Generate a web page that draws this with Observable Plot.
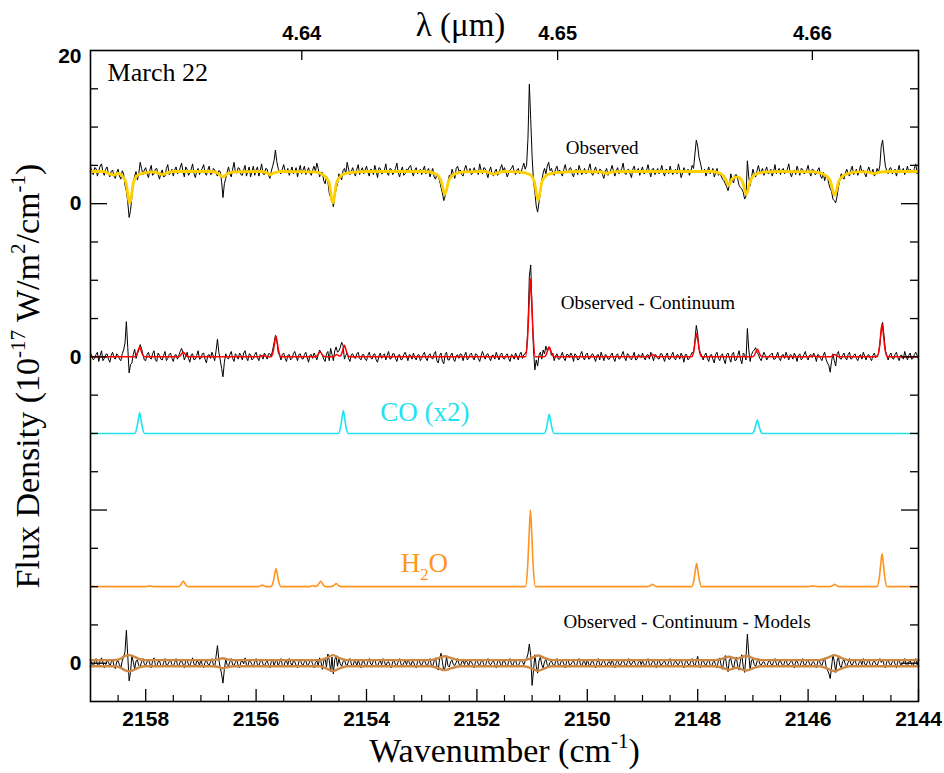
<!DOCTYPE html>
<html><head><meta charset="utf-8">
<script src="https://cdn.jsdelivr.net/npm/d3@7"></script>
<script src="https://cdn.jsdelivr.net/npm/@observablehq/plot@0.6"></script>
<style>body{margin:0;background:#fff}#chart svg{display:block}</style>
</head><body><div id="chart"></div>
<script>
// ---------- DATA (flux in 1e-17 W/m2/cm-1, wavenumber in cm-1) ----------
const wnStart = 2159, wnStep = 0.025;   // spectral sampling of the observed spectrum
const observed = [
4.9,4.0,3.8,4.7,4.6,3.6,4.3,4.9,5.2,4.1,3.7,4.5,4.8,3.9,3.5,4.2,4.4,3.6,3.3,4.1,
4.5,3.6,3.2,4.3,3.9,2.4,1.6,0.2,-1.8,-0.9,0.9,2.7,3.6,4.2,3.1,3.9,5.4,4.6,3.8,4.4,
4.7,3.9,3.4,4.4,5.0,3.7,3.9,4.5,4.6,3.8,3.2,4.0,4.4,3.5,3.6,4.6,5.1,3.8,4.0,4.5,
3.6,4.4,4.8,3.9,4.1,4.7,5.3,4.2,3.5,4.8,4.5,3.7,4.0,4.5,5.2,3.9,3.4,4.3,4.6,3.8,
4.3,4.6,5.1,4.0,3.7,4.4,4.9,3.8,3.9,4.6,4.4,3.9,3.6,4.3,4.2,2.9,0.8,2.6,3.3,4.1,
4.8,3.9,3.5,4.5,5.4,4.1,4.0,4.7,4.6,3.8,3.7,4.4,5.0,3.6,4.2,4.8,3.5,4.2,4.9,3.7,
4.4,4.8,3.6,4.3,5.2,3.9,3.8,4.6,4.5,3.7,3.3,4.2,4.9,5.6,7.0,5.5,4.6,4.1,3.9,4.5,
5.1,4.3,4.0,4.6,3.7,4.2,4.8,3.9,4.2,4.7,3.5,4.3,5.0,3.9,4.4,4.9,3.8,4.2,4.7,4.0,
3.7,4.4,4.9,4.2,5.3,4.6,3.5,4.0,4.1,3.0,2.6,3.6,2.9,1.4,0.8,0.3,-0.4,0.9,1.9,2.6,
3.9,3.5,3.1,4.3,4.6,3.9,5.4,4.5,3.8,4.2,4.7,4.0,3.6,4.5,5.1,3.8,4.3,4.7,3.9,4.4,
4.9,4.1,3.6,4.5,4.4,3.8,5.0,4.3,3.4,4.7,4.6,3.9,4.0,4.4,5.2,4.0,3.7,4.6,4.5,3.8,
4.1,4.6,5.3,4.0,3.5,4.3,4.8,3.7,3.9,4.5,4.4,4.8,5.0,4.1,3.6,4.4,4.7,3.9,4.2,4.5,
3.8,4.4,4.9,3.9,4.3,4.6,3.5,4.1,4.6,3.5,3.2,3.9,3.5,3.0,2.1,1.4,0.4,1.0,2.0,2.8,
3.7,3.4,4.5,3.9,3.3,4.6,4.9,4.2,4.4,3.8,3.6,4.5,5.0,4.3,4.1,4.6,3.8,4.0,4.7,4.2,
4.3,3.8,5.2,4.4,3.9,4.7,4.6,4.0,3.4,4.3,4.8,3.9,3.6,4.2,4.5,3.7,4.0,4.6,5.1,4.3,
4.7,4.1,3.5,4.0,4.4,4.6,5.0,4.2,3.8,4.4,4.6,3.9,4.1,4.7,5.3,4.5,5.0,8.5,15.6,11.0,
6.2,3.0,1.5,-0.3,-1.1,0.2,1.4,3.0,4.0,4.6,3.9,4.9,5.4,4.3,4.6,4.0,3.7,4.5,4.9,4.1,
4.4,3.9,3.6,4.5,5.1,4.2,4.0,4.6,4.7,3.9,3.5,4.3,4.5,3.8,5.0,4.4,3.8,4.1,4.6,3.9,
4.1,4.6,5.2,4.0,3.7,4.3,4.8,4.1,3.9,4.5,4.4,3.8,3.3,4.2,4.6,3.7,4.0,4.4,5.0,4.2,
3.6,4.3,4.7,3.9,4.2,4.6,5.3,4.0,3.8,4.4,4.5,3.9,3.4,4.5,4.9,4.0,4.3,4.6,3.7,4.3,
4.8,3.9,4.0,4.4,5.1,4.2,3.5,4.5,4.6,3.8,4.2,4.6,3.9,4.3,5.0,4.1,3.6,4.5,4.4,3.9,
4.9,4.2,3.8,4.3,4.5,3.9,5.2,4.4,3.4,4.0,4.7,4.3,4.1,4.5,3.7,4.2,5.0,4.6,6.5,8.3,
7.5,6.0,5.3,4.4,4.0,4.5,3.6,4.2,4.8,3.9,4.2,4.6,3.5,4.0,4.6,3.7,3.9,3.6,3.2,3.0,
2.6,2.2,1.7,2.5,3.9,3.1,2.7,3.7,3.8,3.2,2.4,2.1,1.9,1.5,0.6,1.0,5.6,3.5,2.3,3.4,
4.5,3.9,3.5,4.3,5.0,4.1,4.2,4.6,3.7,4.3,4.8,3.9,4.0,4.5,3.6,4.2,5.1,3.9,4.3,4.6,
3.8,4.4,4.6,3.9,4.1,4.5,5.2,4.0,3.5,4.2,4.4,3.8,4.9,4.3,3.7,4.6,4.5,3.9,4.0,4.4,
5.0,4.1,3.6,4.5,4.4,3.8,3.9,4.4,4.7,3.6,3.3,4.1,3.0,3.7,3.6,2.6,2.0,1.6,0.6,0.4,
0.1,1.0,2.2,3.1,3.9,3.4,3.2,4.0,4.5,3.9,3.6,4.4,4.9,3.8,4.1,4.5,3.7,4.2,5.0,4.0,
4.4,3.9,3.5,4.3,4.8,4.2,4.0,4.5,3.6,3.9,4.6,4.1,5.0,7.5,8.3,6.5,4.9,4.3,3.9,4.6,
4.7,3.9,4.1,4.5,3.6,4.3,5.0,4.0,4.3,4.6,3.8,4.2,4.9,4.0,4.5,4.3,4.0,4.6,5.2,3.9,4.4];
const observedMinusContinuum = [
0.5,0.1,-0.4,-0.2,0.3,0.6,-0.6,0.2,0.8,-0.5,-0.2,0.3,0.4,-0.3,-0.7,0.2,0.6,-0.1,-0.3,0.4,
0.2,-0.3,-0.5,0.4,0.9,1.8,4.6,1.2,-2.1,-1.0,-0.8,0.3,1.0,-0.2,0.4,0.9,1.6,1.1,0.3,-0.4,
-0.5,0.3,0.6,-0.1,-0.3,0.4,0.8,-0.4,-0.6,0.5,0.2,-0.3,-0.4,0.2,0.7,-0.5,-0.2,0.3,0.5,-0.2,
-0.6,0.2,0.3,-0.3,0.2,0.7,1.1,0.5,-0.4,0.1,0.6,-0.2,-0.7,0.3,0.4,-0.4,-0.3,0.2,0.8,-0.3,
-0.2,0.4,0.5,-0.3,-0.8,0.2,0.3,-0.2,0.6,0.1,-0.5,0.8,2.3,0.6,-0.4,-1.5,-2.6,-0.7,0.4,-0.1,
-0.3,0.3,0.7,-0.2,-0.6,0.4,0.2,-0.3,0.5,0.2,-0.4,0.5,0.8,-0.1,-0.5,0.4,0.3,-0.4,-0.2,0.3,
0.6,-0.1,-0.5,0.3,0.1,-0.3,0.5,0.2,-0.3,0.4,0.4,0.1,0.9,1.8,2.8,2.2,0.6,0.2,-0.4,0.3,
0.5,-0.2,-0.6,0.2,0.3,-0.4,-0.2,0.4,0.7,0.1,-0.5,0.3,0.4,-0.2,-0.3,0.3,0.6,-0.1,-0.7,0.2,
0.3,-0.2,0.5,0.1,-0.4,0.3,0.9,0.6,0.2,-0.3,-0.6,0.4,0.7,-0.5,1.1,0.3,-0.5,0.8,1.3,0.6,
0.8,1.2,1.9,1.5,-0.3,0.2,0.5,-0.2,-0.6,0.3,0.4,-0.1,-0.2,0.4,0.6,-0.2,-0.4,0.3,0.3,-0.3,
-0.5,0.2,0.6,-0.1,-0.3,0.3,0.4,-0.4,-0.7,0.1,0.5,-0.2,0.2,0.4,-0.4,0.2,0.7,-0.3,-0.2,0.4,
0.4,-0.2,-0.6,0.2,0.3,-0.4,-0.3,0.3,0.6,0.1,-0.5,0.3,0.2,-0.3,0.5,-0.1,-0.4,0.2,0.3,-0.5,
-0.2,0.3,0.6,-0.2,-0.5,0.2,0.4,-0.1,-0.3,0.4,0.7,-0.5,-0.8,0.2,0.5,-0.6,-0.9,0.3,0.6,-0.4,
-0.4,0.2,0.5,-0.3,-0.6,0.1,0.3,-0.2,0.4,0.3,-0.5,0.2,0.6,-0.4,-0.2,0.3,0.5,-0.1,-0.4,0.4,
0.3,-0.2,-0.6,0.1,0.7,0.2,-0.3,0.3,0.4,-0.1,-0.5,0.2,0.2,-0.3,0.6,0.1,-0.4,0.3,0.5,-0.2,
-0.3,0.2,0.4,-0.2,-0.6,0.3,0.2,-0.3,0.5,0.1,-0.4,0.3,0.6,-0.2,0.3,0.4,0.8,4.0,10.5,12.0,
6.0,1.0,-1.7,-0.4,-1.2,0.2,0.6,-0.3,0.9,0.4,1.4,0.8,1.3,1.0,0.2,0.5,-0.5,0.1,0.4,-0.3,
-0.3,0.2,0.6,-0.2,-0.5,0.3,0.3,-0.1,0.5,0.2,-0.6,0.4,0.2,-0.4,-0.3,0.3,0.7,-0.1,-0.4,0.3,
0.5,-0.3,-0.2,0.3,0.4,-0.1,-0.6,0.2,0.3,-0.4,0.6,0.1,-0.5,0.3,0.2,-0.3,-0.3,0.2,0.5,-0.2,
-0.6,0.2,0.4,-0.3,-0.2,0.3,0.7,-0.1,-0.5,0.4,0.3,-0.2,-0.4,0.1,0.6,-0.4,-0.3,0.3,0.2,-0.1,
0.5,-0.1,-0.4,0.2,0.3,-0.3,0.6,0.1,-0.5,0.3,0.2,-0.2,-0.3,0.4,0.4,-0.1,-0.6,0.2,0.5,-0.3,
-0.3,0.2,0.6,-0.2,-0.4,0.3,0.2,-0.3,0.5,0.1,-0.7,0.3,0.3,-0.4,-0.2,0.2,0.6,0.4,2.2,4.1,
3.0,1.0,0.5,0.1,-0.4,0.2,0.5,-0.2,-0.6,0.2,0.3,-0.3,-0.8,0.3,0.6,-0.2,-0.5,0.2,0.4,-0.4,
-0.9,0.3,0.5,-0.2,-0.7,0.4,0.6,-0.5,-0.4,0.2,0.8,-0.3,-0.9,0.5,0.3,-0.4,3.7,1.0,-0.6,0.3,
0.7,0.9,1.2,0.6,0.3,-0.2,-0.5,0.1,0.6,0.2,-0.4,-0.1,0.2,0.3,0.5,-0.3,-0.3,0.1,0.6,-0.2,
-0.5,0.2,0.3,-0.2,0.6,0.1,-0.4,0.3,0.2,-0.3,0.5,0.1,-0.6,0.2,0.4,-0.4,-0.2,0.3,0.7,-0.1,
-0.4,0.2,0.3,-0.1,0.5,0.1,-0.6,0.3,0.2,-0.2,-0.5,0.2,0.6,-0.3,-0.8,-1.1,-2.0,-0.6,0.4,-0.5,
-1.2,0.4,0.7,-0.2,-0.3,0.2,0.5,-0.1,-0.4,0.3,0.6,-0.3,-0.2,0.2,0.4,-0.2,-0.5,0.1,0.3,-0.3,
0.6,0.1,-0.4,0.2,0.3,-0.2,-0.5,0.2,0.5,-0.1,0.2,0.4,1.6,3.6,4.5,2.8,0.8,0.3,-0.4,0.2,
0.5,-0.2,-0.3,0.3,0.6,-0.1,-0.5,0.2,0.2,-0.3,0.7,0.1,-0.4,0.2,0.5,-0.3,-0.2,0.3,0.6,0.2,-0.3];
const residual = [
0.4,-0.1,-0.5,0.2,0.6,-0.2,-0.3,0.3,0.7,0.1,-0.6,-0.2,0.3,0.2,-0.4,0.1,0.5,-0.3,-0.7,0.2,
0.3,-0.2,-0.6,0.3,0.8,1.5,4.3,1.0,-2.3,-1.2,1.0,0.2,-0.8,0.3,0.4,-0.3,-0.5,0.2,0.6,-0.1,
-0.3,0.2,0.5,-0.1,-0.6,0.3,0.7,-0.2,-0.4,0.2,0.3,-0.3,-0.5,0.1,0.6,-0.3,-0.2,0.2,0.4,-0.2,
-0.5,0.1,0.6,-0.2,-0.4,0.2,0.3,-0.1,-0.6,0.3,0.5,-0.2,-0.3,0.2,0.7,-0.1,-0.4,0.3,0.2,-0.3,
0.5,-0.2,-0.6,0.1,0.4,-0.1,-0.3,0.2,0.6,-0.2,-0.5,0.9,2.3,0.5,-0.6,-1.4,-2.6,-0.8,0.5,-0.2,
-0.4,0.2,0.6,-0.2,-0.3,0.1,0.5,-0.3,-0.6,0.2,0.3,-0.1,0.7,-0.2,-0.4,0.3,0.2,-0.2,-0.5,0.2,
0.6,-0.2,-0.3,0.2,0.4,-0.1,-0.5,0.1,0.3,-0.2,-0.6,0.2,0.5,-0.3,0.2,0.4,-0.4,0.1,0.6,-0.2,
-0.5,0.2,0.3,-0.2,0.6,0.1,-0.4,0.3,0.2,-0.3,-0.6,0.2,0.5,-0.1,-0.3,0.2,0.4,-0.3,-0.2,0.3,
0.5,-0.2,-0.6,0.1,0.3,-0.3,0.7,0.2,-0.8,0.3,0.6,-0.5,1.2,0.4,-1.1,0.8,-1.4,0.5,0.9,-0.4,
0.6,-0.1,-0.4,0.2,0.5,-0.2,-0.3,0.3,0.6,-0.1,-0.5,0.2,0.2,-0.3,0.4,-0.1,-0.6,0.2,0.3,-0.2,
-0.4,0.2,0.6,-0.1,-0.2,0.3,0.5,-0.2,-0.5,0.1,0.3,-0.2,0.6,0.2,-0.4,0.1,0.2,-0.3,-0.6,0.2,
0.4,-0.2,-0.3,0.2,0.6,-0.1,-0.5,0.1,0.3,-0.2,0.5,0.1,-0.4,0.2,0.2,-0.3,-0.6,0.2,0.5,-0.1,
-0.3,0.2,0.4,-0.1,-0.5,0.2,0.6,-0.3,-0.4,0.3,0.7,-0.4,-0.9,0.6,1.3,0.2,-1.0,-0.5,0.8,-0.3,
-0.5,0.2,0.4,-0.2,-0.3,0.1,0.6,-0.1,-0.5,0.2,0.3,-0.2,0.5,0.1,-0.4,0.3,0.2,-0.2,-0.6,0.2,
0.5,-0.1,-0.3,0.2,0.4,-0.2,-0.5,0.2,0.6,-0.1,-0.2,0.1,0.3,-0.2,-0.6,0.2,0.5,-0.1,-0.4,0.3,
0.3,-0.2,-0.5,0.2,0.6,-0.1,-0.3,0.2,0.4,-0.2,-0.4,0.1,0.5,0.2,-0.2,0.3,0.6,1.2,2.5,1.0,
-2.9,-1.0,1.1,-0.4,-1.3,0.3,0.8,-0.2,-0.6,0.2,0.5,-0.2,-0.4,0.1,0.3,-0.1,-0.5,0.2,0.6,-0.2,
-0.3,0.2,0.4,-0.1,-0.6,0.2,0.5,-0.2,-0.2,0.1,0.3,-0.2,-0.5,0.2,0.6,-0.1,-0.4,0.2,0.2,-0.3,
0.5,-0.1,-0.4,0.2,0.3,-0.2,-0.6,0.1,0.6,-0.2,-0.3,0.2,0.4,-0.1,-0.5,0.1,0.2,-0.2,0.5,-0.1,
-0.6,0.1,0.4,-0.2,-0.3,0.2,0.5,-0.1,-0.4,0.1,0.6,-0.1,-0.2,0.2,0.3,-0.2,-0.5,0.1,0.4,-0.2,
0.3,-0.1,-0.5,0.2,0.6,-0.2,-0.3,0.1,0.4,-0.1,-0.6,0.2,0.5,-0.2,-0.2,0.1,0.3,-0.2,-0.4,0.2,
0.6,-0.2,-0.5,0.1,0.3,-0.1,-0.2,0.2,0.5,-0.2,-0.6,0.1,0.4,-0.1,-0.3,0.2,0.6,-0.1,-0.4,0.3,
0.9,-0.3,-0.6,0.2,0.4,-0.1,-0.3,0.2,0.5,-0.2,-0.5,0.1,0.3,-0.2,-0.6,0.3,0.7,-0.3,-0.8,0.4,
1.0,-0.4,-1.1,0.5,0.6,-0.3,-0.7,0.3,0.8,-0.4,-0.9,0.4,1.1,-0.5,-1.2,0.9,3.8,1.2,-0.9,0.4,
0.5,-0.2,-0.4,0.2,0.6,-0.1,-0.3,0.1,0.2,-0.2,-0.5,0.1,0.4,-0.1,-0.3,0.2,0.6,-0.1,-0.4,0.2,
0.3,-0.1,-0.5,0.2,0.5,-0.2,-0.2,0.1,0.4,-0.1,-0.6,0.2,0.3,-0.2,-0.4,0.1,0.6,-0.2,-0.3,0.2,
0.5,-0.1,-0.4,0.1,0.2,-0.2,-0.6,0.2,0.4,-0.1,-0.3,0.3,0.7,-0.4,-0.9,-1.3,-2.0,-0.5,1.1,0.2,
-1.2,0.3,0.8,-0.3,-0.6,0.2,0.5,-0.2,-0.4,0.1,0.6,-0.1,-0.3,0.2,0.4,-0.2,-0.5,0.1,0.3,-0.2,
0.6,-0.1,-0.3,0.2,0.4,-0.2,-0.5,0.1,0.3,-0.1,-0.4,0.2,0.6,0.1,0.5,-0.2,-0.6,0.2,0.4,-0.1,
-0.3,0.2,0.5,-0.1,-0.6,0.2,0.4,-0.2,-0.2,0.1,0.6,-0.2,-0.4,0.2,0.3,-0.1,-0.5,0.2,0.6,-0.2,0.4];
// continuum fit [wavenumber, flux]
const continuum = [
[2159.0,4.2],[2158.75,4.2],[2158.65,3.85],[2158.58,3.75],[2158.5,3.95],[2158.44,3.75],[2158.36,2.8],[2158.29,0.1],[2158.22,2.8],[2158.14,3.75],[2158.0,4.05],[2157.85,4.15],[2157.76,3.95],[2157.7,3.8],[2157.64,3.95],[2157.5,4.2],
[2156.8,4.2],[2156.68,3.9],[2156.6,3.5],[2156.52,3.9],[2156.4,4.15],[2155.9,4.2],[2155.8,4.0],[2155.74,3.8],[2155.68,4.0],[2155.55,4.2],
[2154.95,4.15],[2154.8,3.85],[2154.68,2.8],[2154.61,0.1],[2154.54,2.8],[2154.42,3.85],[2154.25,4.1],[2154.0,4.2],
[2152.95,4.2],[2152.75,3.9],[2152.65,3.0],[2152.58,1.2],[2152.51,3.0],[2152.4,3.9],[2152.2,4.15],[2151.85,4.2],[2151.76,4.0],[2151.7,3.85],[2151.64,4.0],[2151.5,4.2],
[2151.25,4.15],[2151.05,3.85],[2150.96,2.9],[2150.89,0.4],[2150.82,2.9],[2150.7,3.85],[2150.5,4.1],[2150.2,4.2],[2149.75,4.15],[2149.65,3.95],[2149.55,4.15],[2149.3,4.2],
[2147.75,4.2],[2147.58,3.9],[2147.5,3.3],[2147.44,2.4],[2147.37,3.3],[2147.28,3.5],[2147.19,2.9],[2147.12,1.2],[2147.05,2.9],[2146.95,3.85],[2146.75,4.15],[2146.5,4.2],
[2145.9,4.15],[2145.72,3.85],[2145.6,3.0],[2145.52,1.1],[2145.44,3.0],[2145.32,3.85],[2145.1,4.15],[2144.95,4.15],[2144.85,4.0],[2144.8,3.95],[2144.72,4.1],[2144.5,4.2],[2144.0,4.2]];
// emission model (CO + H2O) fitted to the continuum-subtracted spectrum
const emissionModel = [
[2159.0,0],[2158.2,0],[2158.16,0.35],[2158.13,0.98],[2158.11,1.3],[2158.09,0.98],[2158.06,0.35],[2158.02,0],
[2157.41,0],[2157.37,0.18],[2157.34,0.49],[2157.32,0.65],[2157.3,0.49],[2157.27,0.18],[2157.23,0],
[2155.96,0],[2155.92,0.05],[2155.89,0.15],[2155.87,0.2],[2155.85,0.15],[2155.82,0.05],[2155.78,0],
[2155.73,0],[2155.69,0.73],[2155.66,2.0],[2155.64,2.7],[2155.62,2.0],[2155.59,0.73],[2155.55,0],
[2154.93,0],[2154.89,0.18],[2154.86,0.49],[2154.84,0.65],[2154.82,0.49],[2154.79,0.18],[2154.75,0],
[2154.63,0],[2154.59,0.08],[2154.56,0.22],[2154.54,0.3],[2154.52,0.23],[2154.49,0.12],[2154.47,0.12],[2154.45,0.4],[2154.42,1.12],[2154.4,1.5],[2154.38,1.12],[2154.35,0.4],[2154.31,0],
[2151.12,0],[2151.08,2.75],[2151.05,7.6],[2151.03,10.2],[2151.01,7.6],[2150.98,2.75],[2150.94,0],
[2150.78,0],[2150.74,0.35],[2150.71,0.98],[2150.69,1.3],[2150.67,0.98],[2150.64,0.35],[2150.6,0],
[2148.91,0],[2148.87,0.08],[2148.84,0.22],[2148.82,0.3],[2148.8,0.22],[2148.77,0.08],[2148.73,0],
[2148.11,0],[2148.07,0.82],[2148.04,2.3],[2148.02,3.05],[2148.0,2.3],[2147.97,0.82],[2147.93,0],
[2147.01,0],[2146.97,0.27],[2146.94,0.75],[2146.92,1.0],[2146.9,0.75],[2146.87,0.27],[2146.83,0],
[2146.0,0],[2145.91,0.1],[2145.82,0],
[2145.61,0],[2145.57,0.08],[2145.54,0.22],[2145.52,0.3],[2145.5,0.22],[2145.47,0.08],[2145.43,0],
[2144.75,0],[2144.71,1.16],[2144.68,3.2],[2144.66,4.3],[2144.64,3.2],[2144.61,1.16],[2144.57,0],[2144.0,0]];
// CO model, shown multiplied by 2
const coModel = [
[2159.0,0],[2158.2,0],[2158.16,0.75],[2158.13,2.0],[2158.11,2.7],[2158.09,2.0],[2158.06,0.75],[2158.02,0],
[2154.51,0],[2154.47,0.8],[2154.44,2.2],[2154.42,2.96],[2154.4,2.2],[2154.37,0.8],[2154.33,0],
[2150.78,0],[2150.74,0.7],[2150.71,1.85],[2150.69,2.5],[2150.67,1.85],[2150.64,0.7],[2150.6,0],
[2147.01,0],[2146.97,0.5],[2146.94,1.3],[2146.92,1.75],[2146.9,1.3],[2146.87,0.5],[2146.83,0],[2144.0,0]];
// H2O model
const h2oModel = [
[2159.0,0],[2158.0,0],[2157.93,0.1],[2157.86,0],
[2157.41,0],[2157.37,0.19],[2157.34,0.53],[2157.32,0.7],[2157.3,0.53],[2157.27,0.19],[2157.23,0],
[2155.96,0],[2155.89,0.2],[2155.82,0],
[2155.73,0],[2155.69,0.63],[2155.66,1.76],[2155.64,2.35],[2155.62,1.76],[2155.59,0.63],[2155.55,0],
[2155.03,0],[2154.97,0.15],[2154.93,0.02],[2154.88,0.19],[2154.85,0.53],[2154.83,0.7],[2154.81,0.53],[2154.78,0.19],[2154.74,0],
[2154.64,0],[2154.6,0.11],[2154.57,0.3],[2154.55,0.4],[2154.53,0.3],[2154.5,0.11],[2154.46,0],
[2151.12,0],[2151.08,2.7],[2151.05,7.5],[2151.03,10.0],[2151.01,7.5],[2150.98,2.7],[2150.94,0],
[2148.91,0],[2148.87,0.08],[2148.84,0.22],[2148.82,0.3],[2148.8,0.22],[2148.77,0.08],[2148.73,0],
[2148.11,0],[2148.07,0.81],[2148.04,2.25],[2148.02,3.0],[2148.0,2.25],[2147.97,0.81],[2147.93,0],
[2146.0,0],[2145.91,0.1],[2145.82,0],
[2145.61,0],[2145.57,0.08],[2145.54,0.22],[2145.52,0.3],[2145.5,0.22],[2145.47,0.08],[2145.43,0],
[2144.75,0],[2144.71,1.16],[2144.68,3.2],[2144.66,4.3],[2144.64,3.2],[2144.61,1.16],[2144.57,0],[2144.0,0]];
// uncertainty envelope of the residuals [wavenumber, upper, lower]
const residualEnvelope = [
[2159.0,0.38,-0.4],[2158.55,0.4,-0.4],[2158.45,0.6,-0.6],[2158.37,0.95,-0.95],[2158.3,1.05,-1.05],[2158.22,0.9,-0.9],[2158.12,0.55,-0.55],[2158.0,0.4,-0.4],
[2156.8,0.4,-0.4],[2156.68,0.5,-0.5],[2156.6,0.65,-0.65],[2156.52,0.5,-0.5],[2156.4,0.4,-0.4],
[2154.85,0.4,-0.4],[2154.72,0.7,-0.7],[2154.61,1.05,-1.05],[2154.5,0.7,-0.7],[2154.35,0.4,-0.4],
[2152.85,0.4,-0.4],[2152.7,0.65,-0.65],[2152.58,0.9,-0.9],[2152.46,0.65,-0.65],[2152.3,0.4,-0.4],
[2151.15,0.4,-0.4],[2151.0,0.7,-0.7],[2150.89,1.0,-1.0],[2150.78,0.7,-0.7],[2150.65,0.4,-0.4],
[2147.7,0.4,-0.4],[2147.55,0.6,-0.6],[2147.44,0.85,-0.85],[2147.3,0.6,-0.6],[2147.12,0.95,-0.95],[2146.98,0.6,-0.6],[2146.85,0.4,-0.4],
[2145.8,0.4,-0.4],[2145.65,0.7,-0.7],[2145.52,1.05,-1.05],[2145.4,0.7,-0.7],[2145.25,0.4,-0.4],[2144.0,0.4,-0.4]];
// axis ticks and labels
const wnTicks = [2158, 2156, 2154, 2152, 2150, 2148, 2146, 2144];
const wnMinorTicks = [2158.5,2157.5,2157,2156.5,2155.5,2155,2154.5,2153.5,2153,2152.5,2151.5,2151,2150.5,2149.5,2149,2148.5,2147.5,2147,2146.5,2145.5,2145,2144.5];
const lambdaTicks = [4.64, 4.65, 4.66];
const yMajorTicks = [0, 20, 40, 60];
const yMinorTicks = [5,10,15,25,30,35,45,50,55,65,70,75];
const yTopLabel = {value: 80, text: "20"};
const yZeroValues = [60, 40, 0];
// annotations [wavenumber, stacked flux, text]
const annotations = [
  {wn: 2150.39, y: 67.3, text: "Observed"},
  {wn: 2150.48, y: 47.1, text: "Observed - Continuum"},
  {wn: 2150.43, y: 5.45, text: "Observed - Continuum - Models"}
];

// ---------- LAYOUT ----------
const PANEL = {observed: 60, subtracted: 40, co: 30, h2o: 10, residual: 0}; // vertical offsets of the stacked spectra
const W = 944, H = 773, mL = 90, mR = 26, mT = 50, mB = 72;
const xDom = [2159, 2144], yDom = [-5, 80];
const pxX = (W - mL - mR) / (xDom[0] - xDom[1]);
const pxY = (H - mT - mB) / (yDom[1] - yDom[0]);
const serif = "'Liberation Serif','Times New Roman',serif";
const sans = "'Liberation Sans Narrow','Liberation Sans',Arial,sans-serif";

const gridSeries = (arr, off) => arr.map((v, i) => ({wn: wnStart - i * wnStep, v: v + off}));
const pairSeries = (arr, off) => arr.map(d => ({wn: d[0], v: d[1] + off}));

const plot = Plot.plot({
  width: W, height: H, marginLeft: mL, marginRight: mR, marginTop: mT, marginBottom: mB,
  x: {domain: xDom, axis: null},
  y: {domain: yDom, axis: null},
  style: {background: "white", overflow: "visible"},
  marks: [
    Plot.line(gridSeries(observed, PANEL.observed), {x: "wn", y: "v", stroke: "black", strokeWidth: 1}),
    Plot.line(pairSeries(continuum, PANEL.observed), {x: "wn", y: "v", stroke: "#FFD000", strokeWidth: 2.8, curve: "monotone-x"}),
    Plot.line(gridSeries(observedMinusContinuum, PANEL.subtracted), {x: "wn", y: "v", stroke: "black", strokeWidth: 1}),
    Plot.line(pairSeries(emissionModel, PANEL.subtracted), {x: "wn", y: "v", stroke: "#FF0000", strokeWidth: 1.5, curve: "monotone-x"}),
    Plot.line(pairSeries(coModel, PANEL.co), {x: "wn", y: "v", stroke: "#1FE3F0", strokeWidth: 1.6, curve: "monotone-x"}),
    Plot.line(pairSeries(h2oModel, PANEL.h2o), {x: "wn", y: "v", stroke: "#FF9420", strokeWidth: 1.6, curve: "monotone-x"}),
    Plot.line(gridSeries(residual, PANEL.residual), {x: "wn", y: "v", stroke: "black", strokeWidth: 1}),
    Plot.line(residualEnvelope, {x: d => d[0], y: d => d[1] + PANEL.residual, stroke: "#CD8843", strokeWidth: 2.4, curve: "monotone-x"}),
    Plot.line(residualEnvelope, {x: d => d[0], y: d => d[2] + PANEL.residual, stroke: "#CD8843", strokeWidth: 2.4, curve: "monotone-x"}),
    Plot.frame({stroke: "black", strokeWidth: 1.6}),
    Plot.ruleX(wnTicks, {x: d => d, y1: yDom[0], y2: yDom[0] + 12 / pxY, stroke: "black", strokeWidth: 1.3}),
    Plot.ruleX(wnMinorTicks, {x: d => d, y1: yDom[0], y2: yDom[0] + 6 / pxY, stroke: "black", strokeWidth: 1.2}),
    Plot.ruleX(lambdaTicks, {x: d => 1e4 / d, y1: yDom[1], y2: yDom[1] - 10 / pxY, stroke: "black", strokeWidth: 1.3}),
    Plot.ruleY(yMajorTicks, {y: d => d, x1: xDom[0], x2: xDom[0] - 17 / pxX, stroke: "black", strokeWidth: 1.3}),
    Plot.ruleY(yMinorTicks, {y: d => d, x1: xDom[0], x2: xDom[0] - 8 / pxX, stroke: "black", strokeWidth: 1.3}),
    Plot.ruleY(yMajorTicks, {y: d => d, x1: xDom[1], x2: xDom[1] + 17 / pxX, stroke: "black", strokeWidth: 1.3}),
    Plot.ruleY(yMinorTicks, {y: d => d, x1: xDom[1], x2: xDom[1] + 8 / pxX, stroke: "black", strokeWidth: 1.3}),
    Plot.text(wnTicks, {x: d => d, y: yDom[0], dy: 18, text: d => String(d), fontFamily: sans, fontWeight: "bold", fontSize: 21, fill: "black"}),
    Plot.text(lambdaTicks, {x: d => 1e4 / d, y: yDom[1], dy: -17, text: d => d.toFixed(2), fontFamily: sans, fontWeight: "bold", fontSize: 20, fill: "black"}),
    Plot.text([yTopLabel], {x: xDom[0], y: "value", dx: -9, dy: 6, text: "text", textAnchor: "end", fontFamily: sans, fontWeight: "bold", fontSize: 21, fill: "black"}),
    Plot.text(yZeroValues, {x: xDom[0], y: d => d, dx: -9, text: () => "0", textAnchor: "end", fontFamily: sans, fontWeight: "bold", fontSize: 21, fill: "black"}),
    Plot.text([0], {frameAnchor: "bottom", lineAnchor: "middle", textAnchor: "middle", dy: 50, text: () => "Wavenumber (cm-1)", fontFamily: serif, fontSize: 34, fill: "black"}),
    Plot.text([0], {frameAnchor: "top", lineAnchor: "middle", textAnchor: "middle", dx: -44, dy: -25, text: () => "λ (μm)", fontFamily: serif, fontSize: 33, fill: "black"}),
    Plot.text([0], {frameAnchor: "left", lineAnchor: "middle", textAnchor: "middle", dx: -62, dy: 0, rotate: -90, text: () => "Flux Density (10-17 W/m2/cm-1)", fontFamily: serif, fontSize: 34, fill: "black"}),
    Plot.text([0], {x: 2158.69, y: 77.1, text: () => "March 22", textAnchor: "start", fontFamily: serif, fontSize: 26, fill: "black"}),
    Plot.text(annotations, {x: "wn", y: "y", text: "text", textAnchor: "start", fontFamily: serif, fontSize: 19, fill: "black"}),
    Plot.text([0], {x: 2153.75, y: 32.7, text: () => "CO (x2)", textAnchor: "start", fontFamily: serif, fontSize: 27, fill: "#1FE3F0"}),
    Plot.text([0], {x: 2153.38, y: 13.0, text: () => "H2O", textAnchor: "start", fontFamily: serif, fontSize: 27, fill: "#FF9420"})
  ]
});
document.getElementById("chart").appendChild(plot);

// rich text (superscripts / subscripts) kept as real SVG text
function rich(match, fs, parts) {
  const t = Array.from(plot.querySelectorAll("text")).find(e => e.textContent === match);
  if (!t) return;
  t.textContent = "";
  let shift = 0;
  for (const [s, mode] of parts) {
    const ts = document.createElementNS("http://www.w3.org/2000/svg", "tspan");
    const target = mode === "sup" ? -0.42 * fs : mode === "sub" ? 0.28 * fs : 0;
    ts.setAttribute("dy", target - shift);
    shift = target;
    if (mode) ts.setAttribute("font-size", 0.62 * fs);
    ts.textContent = s;
    t.appendChild(ts);
  }
}
rich("Wavenumber (cm-1)", 34, [["Wavenumber (cm"], ["-1", "sup"], [")"]]);
rich("Flux Density (10-17 W/m2/cm-1)", 34, [["Flux Density (10"], ["-17", "sup"], [" W/m"], ["2", "sup"], ["/cm"], ["-1", "sup"], [")"]]);
rich("H2O", 27, [["H"], ["2", "sub"], ["O"]]);
</script>
</body></html>
